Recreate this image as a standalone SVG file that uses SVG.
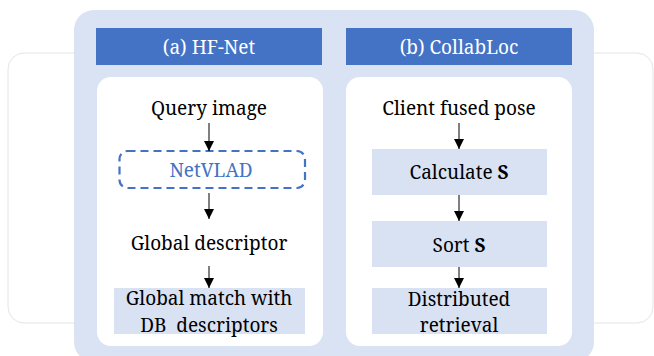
<svg xmlns="http://www.w3.org/2000/svg" width="654" height="356" viewBox="0 0 654 356" font-family="'Noto Serif', 'DejaVu Serif', serif" font-size="19">
<style>
text{text-anchor:middle;fill:#000}
.hdr{fill:#fff}
.blue{fill:#4472C4}
.box{fill:#D9E2F3}
.conn line{stroke:#000;stroke-width:1;marker-end:url(#ah)}
</style>
<defs>
<marker id="ah" viewBox="0 0 10 10" refX="10" refY="5" markerWidth="10" markerHeight="10" markerUnits="userSpaceOnUse" orient="auto">
<path d="M0,0 L10,5 L0,10 z" fill="#000"/>
</marker>
</defs>
<rect x="8" y="53" width="645" height="270" rx="16" fill="#fff" stroke="#e4e4e4" stroke-width="1"/>
<rect x="74" y="10" width="520" height="352" rx="20" fill="#DAE3F3"/>
<g id="hdrA"><rect x="96" y="28" width="226" height="37" fill="#4472C4"/><text class="hdr" x="209" y="54">(a) HF-Net</text></g>
<g id="hdrB"><rect x="346" y="28" width="226" height="37" fill="#4472C4"/><text class="hdr" x="459" y="54">(b) CollabLoc</text></g>
<rect x="97" y="77" width="226" height="269" rx="14" fill="#fff"/>
<rect x="346" y="77" width="226" height="269" rx="14" fill="#fff"/>
<g id="query"><text x="209" y="115">Query image</text></g>
<g id="netvlad"><rect x="119.5" y="151" width="185.5" height="37" rx="8" fill="none" stroke="#4472C4" stroke-width="2.2" stroke-dasharray="8,5"/><text class="blue" x="211" y="177">NetVLAD</text></g>
<g id="gdesc"><text x="209" y="250">Global descriptor</text></g>
<g id="gmatch"><rect class="box" x="114" y="288" width="191" height="46"/><text x="209" y="305">Global match with</text><text x="209" y="332" xml:space="preserve">DB  descriptors</text></g>
<g id="client"><text x="459" y="115">Client fused pose</text></g>
<g id="calc"><rect class="box" x="372" y="149" width="175" height="46"/><text x="459" y="179">Calculate <tspan font-weight="bold">S</tspan></text></g>
<g id="sort"><rect class="box" x="372" y="221" width="175" height="46"/><text x="459" y="252">Sort <tspan font-weight="bold">S</tspan></text></g>
<g id="dist"><rect class="box" x="372" y="288" width="175" height="46"/><text x="459" y="306">Distributed</text><text x="459" y="332">retrieval</text></g>
<g class="conn">
<line x1="209" y1="123" x2="209" y2="151"/>
<line x1="209" y1="193" x2="209" y2="219"/>
<line x1="209" y1="266" x2="209" y2="288"/>
<line x1="459" y1="123" x2="459" y2="149"/>
<line x1="459" y1="195" x2="459" y2="221"/>
<line x1="459" y1="267" x2="459" y2="288"/>
</g>
</svg>
